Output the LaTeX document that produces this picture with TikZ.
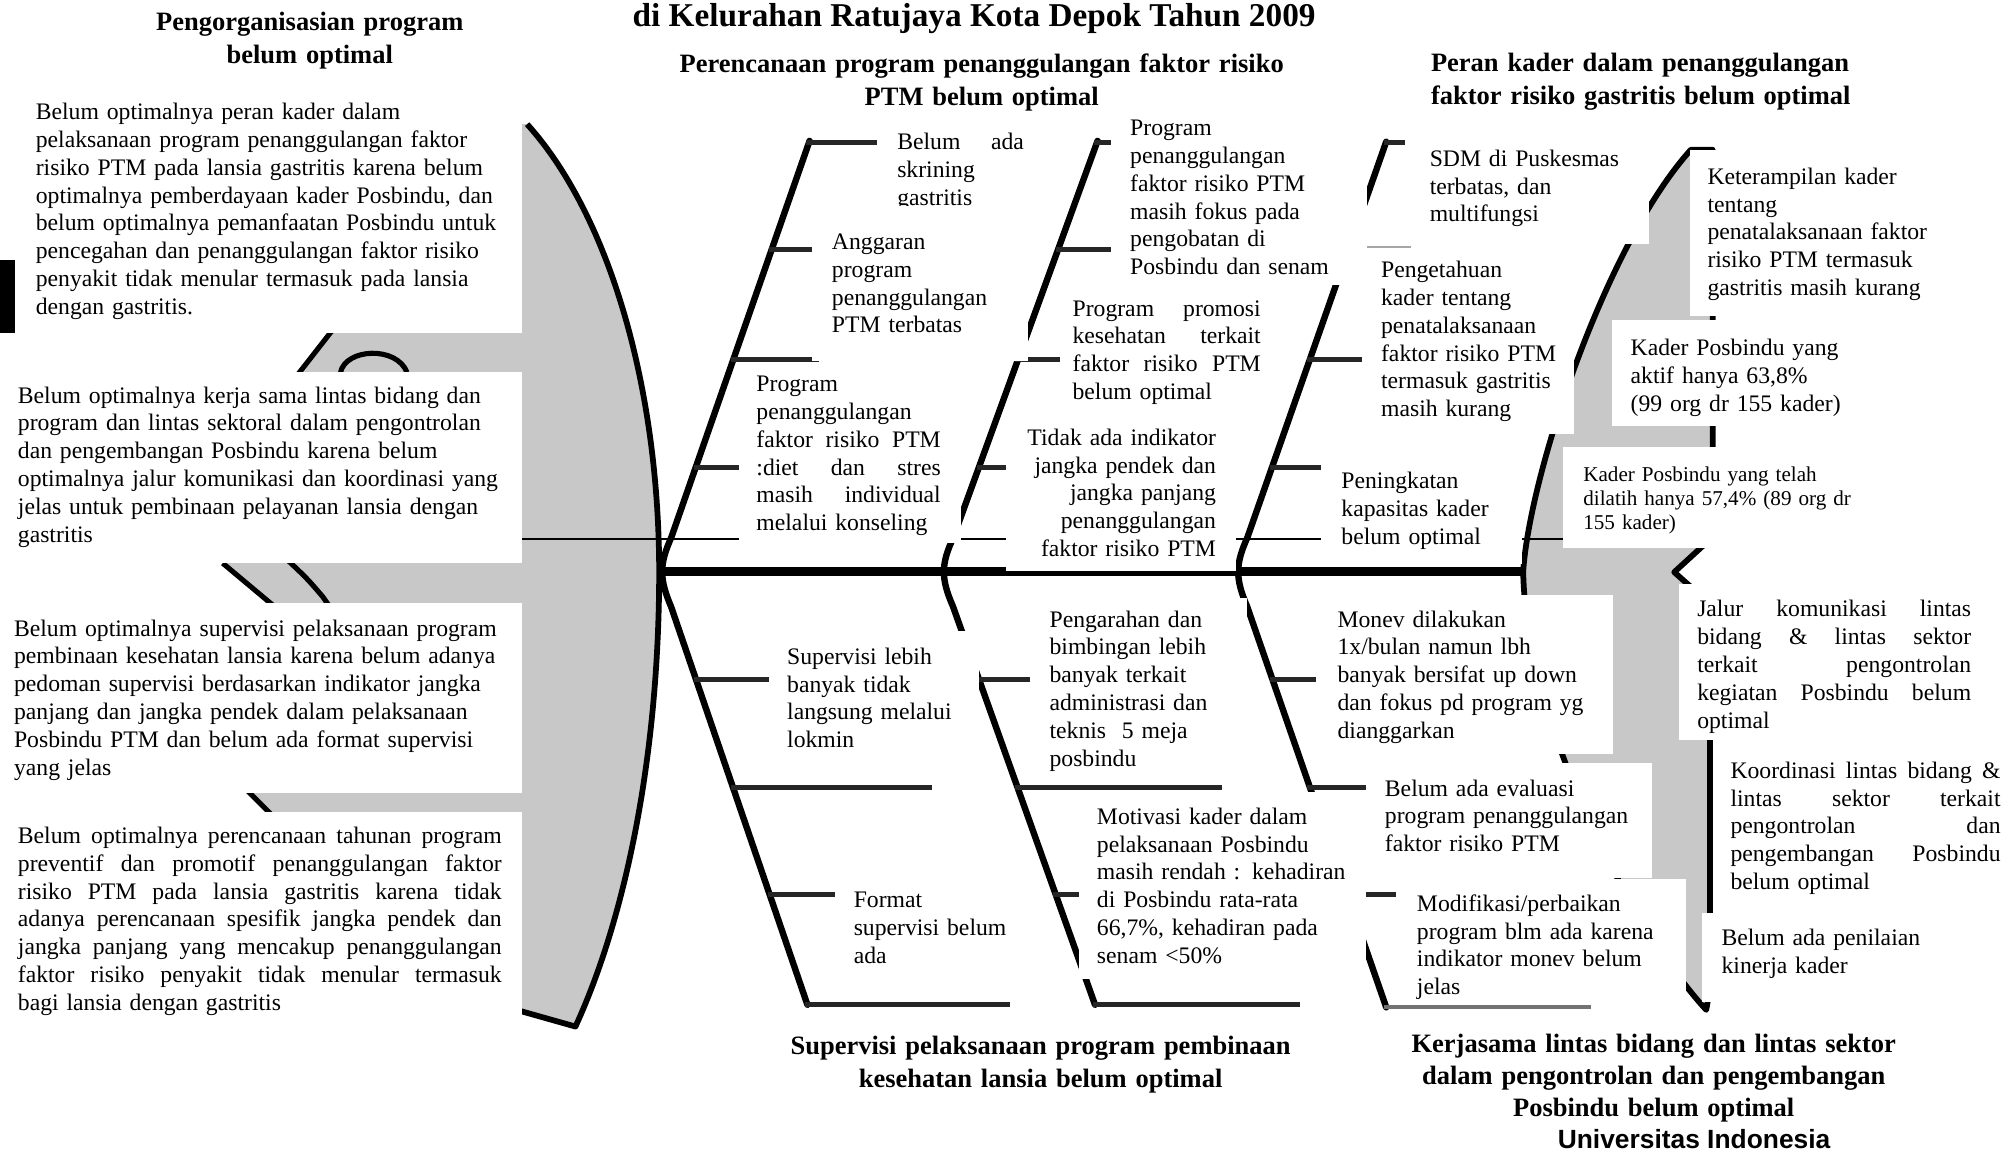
\documentclass[tikz,border=0pt]{standalone}
\usepackage{fontspec}
\setmainfont{Liberation Serif}
\newfontfamily\unifont{Liberation Sans}
\definecolor{fishgray}{RGB}{200,200,200}
% a line stretched to a given width (justified line)
\newcommand\jline[2]{\leavevmode\hbox to #1pt{\spaceskip=0.25em plus 1fil\relax #2}}
\begin{document}
\begin{tikzpicture}[x=1pt,y=-1pt,
  txt/.style={anchor=base west, inner sep=0pt, outer sep=0pt, align=left,
              text width=420pt, font=\fontsize{18.5}{21.7}\selectfont},
  smalltxt/.style={txt, font=\fontsize{16.5}{19}\selectfont},
  rtxt/.style={txt, anchor=base east, align=right, text width=220pt},
  headtxt/.style={inner sep=0pt, outer sep=0pt, text width=560pt,
              font=\fontsize{20.7}{25.3}\selectfont\bfseries},
  bone/.style={line width=5pt, line cap=round, line join=round},
  rib/.style={line width=4pt, black!85},
  outline/.style={line width=4.5pt, line join=round},
  box/.style={fill=white}
]
\useasboundingbox (0,0) rectangle (1568,899);

% ---------- tail (left) ----------
\fill[fishgray] (405,97)
  -- plot[domain=0:61.04, samples=60] ({315+200*cos(61.04-\x)},{447-400*sin(61.04-\x)})
  -- plot[domain=0:47.7, samples=60] ({315+200*cos(\x)},{447+480*sin(\x)})
  -- (405,790) -- cycle;
\draw[outline]
  plot[domain=0:61.04, samples=60] ({315+200*cos(61.04-\x)},{447-400*sin(61.04-\x)})
  -- plot[domain=0:47.7, samples=60] ({315+200*cos(\x)},{447+480*sin(\x)})
  -- (400,788);

% fins seen between the side boxes
\fill[fishgray] (262,255) -- (410,255) -- (410,296) -- (230,296) -- cycle;
\draw[line width=4pt] (230,296) -- (262,255);
\draw[line width=4pt] (266,291) .. controls (270,272) and (310,270) .. (318,291);
\fill[fishgray] (174,440) -- (410,440) -- (410,476) -- (217,476) -- cycle;
\draw[line width=4pt] (174,440) -- (217,476);
\draw[line width=4pt] (223,436) .. controls (240,452) .. (252,466) -- (259,476);
\fill[fishgray] (190,614.5) -- (410,614.5) -- (410,640) -- (215,640) -- cycle;
\draw[line width=4pt] (190,614.5) -- (215,639.5);

% ---------- head (right) ----------
\fill[fishgray] (1190,446.5) .. controls (1195,370) and (1255,190) .. (1321,117)
  -- (1338,117) -- (1338,423) -- (1332,425) -- (1308,447) -- (1326,463) -- (1336,470)
  -- (1336,772) -- (1333,789)
  .. controls (1270,720) and (1192,560) .. (1190,446.5) -- cycle;
\draw[outline] (1190,446.5) .. controls (1195,370) and (1255,190) .. (1321,117)
  -- (1338,117) -- (1338,423) -- (1332,425) -- (1308,447) -- (1326,463) -- (1336,470)
  -- (1336,772) -- (1333,789)
  .. controls (1270,720) and (1192,560) .. (1190,446.5) -- cycle;

% ---------- thin guide line ----------
\draw[line width=1.2pt] (400,421) -- (1225,421);

% ---------- spine and bones ----------
\coordinate (tail) at (515,446.5);
\coordinate (headend) at (1190,446.5);
\draw[line width=6.5pt] (tail) -- (headend);
\draw[bone] (632.5,110) -- (524.4,420) .. controls (515,441) and (515,452) .. (524.3,474) -- (630.8,785);
\draw[bone] (857.5,110) -- (744.8,420) .. controls (735,441) and (735,452) .. (744.6,474) -- (855.5,785);
\draw[bone] (1083,110.7) -- (974.5,420) .. controls (965,441) and (965,452) .. (974.4,474) -- (1083,787);

% ribs
\foreach \xa/\ya/\xb in {630/111/700, 601/195/640, 571/281/640, 542/365/582,
                          855/111/872, 825/195/872, 793/281/832, 763/365/790,
                          1081/111/1102, 1021/281/1068, 992/365/1036,
                          542/531/605, 571/615/728, 600/699/656, 629/785/789,
                          763/531/809, 793/615/955, 823/699/847, 854/785/1016,
                          992/531/1032, 1021/615/1071, 1050/699/1095}
  \draw[rib] (\xa,\ya) -- (\xb,\ya);
\draw[line width=1.3pt, black!35] (1052,193) -- (1102,193);
\draw[rib, line width=3pt, black!55] (1081,787) -- (1243,787);

% ---------- left explanation boxes ----------
\fill[box] (0,60) rectangle (408,260);
\node[txt] (l1) at (28,93.5) {Belum optimalnya peran kader dalam\\
pelaksanaan program penanggulangan faktor\\
risiko PTM pada lansia gastritis karena belum\\
optimalnya pemberdayaan kader Posbindu, dan\\
belum optimalnya pemanfaatan Posbindu untuk\\
pencegahan dan penanggulangan faktor risiko\\
penyakit tidak menular termasuk pada lansia\\
dengan gastritis.};
\fill[black] (0,203) rectangle (12,260);

\fill[box] (0,290.6) rectangle (408,440);
\node[txt] (l2) at (14,315) {Belum optimalnya kerja sama lintas bidang dan\\
program dan lintas sektoral dalam pengontrolan\\
dan pengembangan Posbindu karena belum\\
optimalnya jalur komunikasi dan koordinasi yang\\
jelas untuk pembinaan pelayanan lansia dengan\\
gastritis};

\fill[box] (0,471) rectangle (408,619.5);
\node[txt] (l3) at (11,497) {Belum optimalnya supervisi pelaksanaan program\\
pembinaan kesehatan lansia karena belum adanya\\
pedoman supervisi berdasarkan indikator jangka\\
panjang dan jangka pendek dalam pelaksanaan\\
Posbindu PTM dan belum ada format supervisi\\
yang jelas};

\fill[box] (0,634) rectangle (408,815);
\node[txt] (l4) at (14,659) {\jline{378}{Belum optimalnya perencanaan tahunan program}\\
\jline{378}{preventif dan promotif penanggulangan faktor}\\
\jline{378}{risiko PTM pada lansia gastritis karena tidak}\\
\jline{378}{adanya perencanaan spesifik jangka pendek dan}\\
\jline{378}{jangka panjang yang mencakup penanggulangan}\\
\jline{378}{faktor risiko penyakit tidak menular termasuk}\\
bagi lansia dengan gastritis};

% ---------- upper causes ----------
\begin{scope}
  \clip (685,95) rectangle (805,160.5);
  \fill[box] (685,95) rectangle (805,160.5);
  \node[txt] (b1) at (701,117) {\jline{99}{Belum ada}\\ skrining\\ gastritis};
\end{scope}

\fill[box] (634,177) rectangle (803,282);
\node[txt] (b2) at (650,195) {Anggaran\\ program\\ penanggulangan\\ PTM terbatas};

\fill[box] (577,284) rectangle (751,424);
\node[txt] (b3) at (591,306) {Program\\ penanggulangan\\ \jline{144}{faktor risiko PTM}\\
\jline{144}{:diet dan stres}\\ \jline{144}{masih individual}\\ melalui konseling};

\fill[box] (868,85) rectangle (1068,223);
\node[txt] (b4) at (883,106) {Program\\ penanggulangan\\ faktor risiko PTM\\ masih fokus pada\\
pengobatan di\\ Posbindu dan senam};

\fill[box] (828,228) rectangle (990,325);
\node[txt] (b5) at (838,247) {\jline{147}{Program promosi}\\ \jline{147}{kesehatan terkait}\\
\jline{147}{faktor risiko PTM}\\ belum optimal};

\fill[box] (786,327) rectangle (965.5,446);
\node[rtxt] (b6) at (950,348) {Tidak ada indikator\\ jangka pendek dan\\ jangka panjang\\
penanggulangan\\ faktor risiko PTM};

\fill[box] (1098,105) rectangle (1288,191);
\node[txt] (sdm) at (1117,130) {SDM di Puskesmas\\ terbatas, dan\\ multifungsi};

\fill[box] (1064,197) rectangle (1230,339);
\node[txt] (tahu) at (1079,217) {Pengetahuan\\ kader tentang\\ penatalaksanaan\\ faktor risiko PTM\\
termasuk gastritis\\ masih kurang};

\fill[box] (1032,349) rectangle (1189,441);
\node[txt] (b7) at (1048,382) {Peningkatan\\ kapasitas kader\\ belum optimal};

\fill[box] (1320,117) rectangle (1568,247);
\node[txt] (b8) at (1334,144) {Keterampilan kader\\ tentang\\ penatalaksanaan faktor\\
risiko PTM termasuk\\ gastritis masih kurang};

\fill[box] (1259,250) rectangle (1455,333);
\node[txt] (b9) at (1274,278) {Kader Posbindu yang\\ aktif hanya 63,8\%\\ (99 org dr 155 kader)};

\fill[box] (1221,349) rectangle (1462,428);
\node[smalltxt] (b10) at (1237,376) {Kader Posbindu yang telah\\ dilatih hanya 57,4\% (89 org dr\\ 155 kader)};

% ---------- lower causes ----------
\fill[box] (601,493) rectangle (765,603);
\node[txt] (b11) at (615,519) {Supervisi lebih\\ banyak tidak\\ langsung melalui\\ lokmin};

\fill[box] (652,680) rectangle (815,776);
\node[txt] (b12) at (667,709) {Format\\ supervisi belum\\ ada};

\fill[box] (805,467) rectangle (974,608);
\node[txt] (b13) at (820,490) {Pengarahan dan\\ bimbingan lebih\\ banyak terkait\\
administrasi dan\\ teknis\ \ 5 meja\\ posbindu};

\fill[box] (843,619) rectangle (1067,765);
\node[txt] (b14) at (857,644) {Motivasi kader dalam\\ pelaksanaan Posbindu\\
masih rendah : kehadiran\\ di Posbindu rata-rata\\ 66,7\%, kehadiran pada\\ senam <50\%};

\fill[box] (1028,465) rectangle (1260,589);
\node[txt] (b15) at (1045,490) {Monev dilakukan\\ 1x/bulan namun lbh\\ banyak bersifat up down\\
dan fokus pd program yg\\ dianggarkan};

\fill[box] (1067,596) rectangle (1291,686);
\node[txt] (b16) at (1082,622) {Belum ada evaluasi\\ program penanggulangan\\ faktor risiko PTM};

\fill[box] (1091,687) rectangle (1317,785.5);
\node[txt] (b17) at (1107,712) {Modifikasi/perbaikan\\ program blm ada karena\\
indikator monev belum\\ jelas};

\fill[box] (1311.5,456.6) rectangle (1568,578.5);
\node[txt] (b18) at (1326,482) {\jline{214}{Jalur komunikasi lintas}\\ \jline{214}{bidang \& lintas sektor}\\
\jline{214}{terkait pengontrolan}\\ \jline{214}{kegiatan Posbindu belum}\\ optimal};

\fill[box] (1339,582) rectangle (1568,711);
\node[txt] (b19) at (1352,608) {\jline{211}{Koordinasi lintas bidang \&}\\ \jline{211}{lintas sektor terkait}\\
\jline{211}{pengontrolan dan}\\ \jline{211}{pengembangan Posbindu}\\ belum optimal};

\fill[box] (1330,713) rectangle (1568,783);
\node[txt] (b20) at (1345,739) {Belum ada penilaian\\ kinerja kader};

% ---------- headings ----------
\node[anchor=base, inner sep=0pt, font=\fontsize{26}{30}\selectfont\bfseries] (title)
  at (761,21) {di Kelurahan Ratujaya Kota Depok Tahun 2009};
\node[headtxt, align=center, anchor=base] (h1) at (242,24) {Pengorganisasian program\\ belum optimal};
\node[headtxt, align=center, anchor=base] (h2) at (767,57)
  {Perencanaan program penanggulangan faktor risiko\\ PTM belum optimal};
\node[headtxt, align=left, anchor=base west] (h3) at (1118,56)
  {Peran kader dalam penanggulangan\\ faktor risiko gastritis belum optimal};
\node[headtxt, align=center, anchor=base] (h4) at (813,824)
  {Supervisi pelaksanaan program pembinaan\\ kesehatan lansia belum optimal};
\node[headtxt, align=center, anchor=base] (h5) at (1292,822)
  {Kerjasama lintas bidang dan lintas sektor\\ dalam pengontrolan dan pengembangan\\ Posbindu belum optimal};
\node[anchor=base, inner sep=0pt, font=\unifont\fontsize{20.6}{24}\selectfont\bfseries] (univ)
  at (1323.5,897) {Universitas Indonesia};
\end{tikzpicture}
\end{document}
